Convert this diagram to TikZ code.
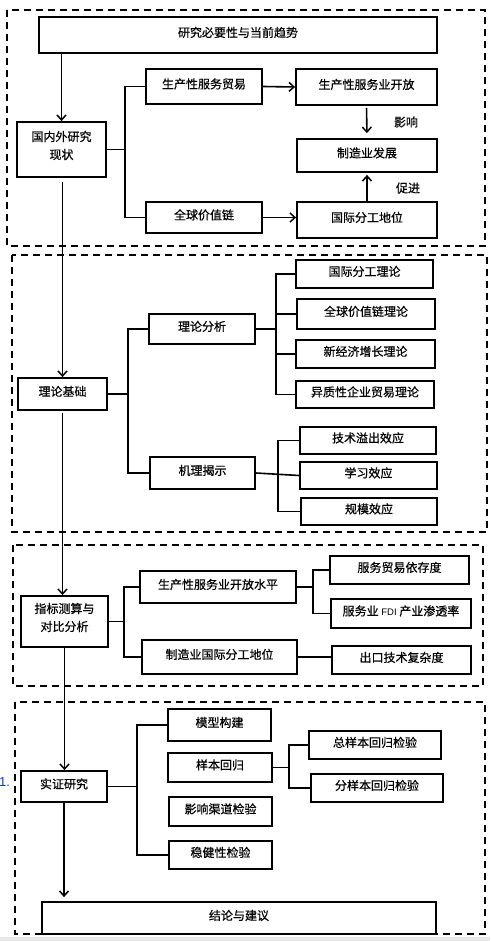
\documentclass[tikz,border=0pt]{standalone}
\usepackage{fontspec}
\newfontfamily\cjk[FakeBold=0.6]{Noto Sans CJK SC}
\newfontfamily\lat{Liberation Sans}
\usetikzlibrary{arrows.meta}
\newcommand\bx[7][box]{\node[#1, minimum width={(#5-#3)*1pt}, minimum height={(#6-#4)*1pt}] (#2) at ({(#3+#5)/2},{(#4+#6)/2}) {#7};}
\begin{document}
\begin{tikzpicture}[x=1pt,y=-1pt,
  frame/.style={draw, line width=1.8pt, inner sep=0pt, font=\cjk\fontsize{12}{18}\selectfont},
  box/.style={frame, text height=9pt, text depth=5pt},
  box2/.style={frame, align=center, text depth=9pt},
  conn/.style={line width=1.6pt},
  arr/.style={line width=1.6pt, -{Straight Barb[length=5pt,width=9pt,line width=1.5pt]}},
  dashbox/.style={line width=1.7pt, dash pattern=on 7pt off 5pt},
  lbl/.style={inner sep=0pt, font=\cjk\fontsize{12}{14}\selectfont}]
\useasboundingbox (0,0) rectangle (490,941);
\fill[black!9] (0,937) rectangle (490,941);
% dashed groups
\draw[dashbox] (7,10) rectangle (485,246);
\draw[dashbox] (12,255) rectangle (487,532);
\draw[dashbox] (13,545) rectangle (483,686);
\draw[dashbox] (15,702) rectangle (485,934);
% section 1
\bx{top}{39}{17}{437}{53}{研究必要性与当前趋势}
\bx[box2]{gn}{17}{122}{106}{177}{国内外研究\\现状}
\bx{sc}{146}{69}{262}{104}{生产性服务贸易}
\bx{kf}{296}{69}{437}{105}{生产性服务业开放}
\bx{zz}{297}{139}{437}{172}{制造业发展}
\bx{qq}{146}{202}{262}{233}{全球价值链}
\bx{gj}{297}{202}{437}{238}{国际分工地位}
\node[lbl] (yx) at (406,122) {影响};
\node[lbl] (cj) at (408,188) {促进};
\coordinate (bus1) at (125,0);
\draw[conn] (gn.east) -- (gn.east -| bus1);
\draw[conn] (sc.west) -- (sc.west -| bus1) -- (qq.west -| bus1) -- (qq.west);
\draw[arr] (sc.east) -- (kf.west);
\draw[arr] (qq.east) -- (qq.east -| gj.west);
\draw[arr, shorten <=2pt, shorten >=5pt] (kf.south) -- (zz.north);
\draw[arr, shorten >=2pt] (gj.north) -- (zz.south);
% section 2
\bx{ll}{18}{378}{107}{410}{理论基础}
\bx{fx}{149}{314}{255}{344}{理论分析}
\bx{t1}{296}{260}{433}{288}{国际分工理论}
\bx{t2}{297}{299}{435}{329}{全球价值链理论}
\bx{t3}{296}{340}{435}{368}{新经济增长理论}
\bx{t4}{296}{381}{434}{408}{异质性企业贸易理论}
\bx{jl2}{150}{457}{255}{489}{机理揭示}
\bx{e1}{300}{427}{436}{454}{技术溢出效应}
\bx{e2}{300}{462}{437}{489}{学习效应}
\bx{e3}{301}{498}{437}{525}{规模效应}
\coordinate (bus2) at (128,0);
\coordinate (bus2a) at (276,0);
\coordinate (bus2b) at (278,0);
\draw[conn] (ll.east) -- (ll.east -| bus2);
\draw[conn] (fx.west) -- (fx.west -| bus2) -- (jl2.west -| bus2) -- (jl2.west);
\draw[conn] (fx.east) -- (fx.east -| bus2a);
\draw[conn] (t1.west) -- (t1.west -| bus2a) -- (t4.west -| bus2a) -- (t4.west);
\draw[conn] (t2.west) -- (t2.west -| bus2a);
\draw[conn] (t3.west) -- (t3.west -| bus2a);
\draw[conn] (jl2.east) -- (e2.west);
\draw[conn] (e1.west) -- (e1.west -| bus2b) -- (e3.west -| bus2b) -- (e3.west);
% section 3
\bx[box2]{zb}{21}{596}{108}{647}{指标测算与\\对比分析}
\bx{kp}{140}{571}{296}{603}{生产性服务业开放水平}
\bx{fw}{330}{556}{469}{584}{服务贸易依存度}
\bx{fdi}{331}{599}{471}{628}{服务业 {\lat\fontsize{9.5}{10}\selectfont FDI} 产业渗透率}
\bx{zg}{142}{640}{297}{674}{制造业国际分工地位}
\bx{ck}{332}{646}{471}{674}{出口技术复杂度}
\coordinate (bus3) at (124,0);
\coordinate (bus3a) at (313,0);
\draw[conn] (zb.east) -- (zb.east -| bus3);
\draw[conn] (kp.west) -- (kp.west -| bus3) -- (zg.west -| bus3) -- (zg.west);
\draw[conn] (kp.east) -- (kp.east -| bus3a);
\draw[conn] (fw.west) -- (fw.west -| bus3a) -- (fdi.west -| bus3a) -- (fdi.west);
\draw[conn] (zg.east) -- (zg.east -| ck.west);
% section 4
\bx{sz}{21}{771}{107}{802}{实证研究}
\bx{mx}{168}{709}{271}{741}{模型构建}
\bx{yb}{168}{753}{272}{782}{样本回归}
\bx{qd}{169}{797}{272}{826}{影响渠道检验}
\bx{wj}{169}{841}{272}{869}{稳健性检验}
\bx{zy}{309}{731}{441}{759}{总样本回归检验}
\bx{fy}{311}{774}{443}{802}{分样本回归检验}
\bx{jy}{42}{902}{436}{934}{结论与建议}
\coordinate (bus4) at (137,0);
\coordinate (bus4a) at (289,0);
\draw[conn] (sz.east) -- (sz.east -| bus4);
\draw[conn] (mx.west) -- (mx.west -| bus4) -- (wj.west -| bus4) -- (wj.west);
\draw[conn] (yb.east) -- (yb.east -| bus4a);
\draw[conn] (zy.west) -- (zy.west -| bus4a) -- (fy.west -| bus4a) -- (fy.west);
\node[inner sep=0pt, font=\lat\fontsize{13}{14}\selectfont, text=blue!70!cyan!80!black] (n1) at (4.5,782) {1.};
% main spine
\draw[arr] (top.south -| gn.north) -- (gn.north);
\draw[arr, shorten <=4pt] (gn.south -| ll.north) -- (ll.north);
\draw[arr, shorten <=2pt] (ll.south) -- (ll.south |- zb.north);
\draw[arr] (zb.south) -- (zb.south |- sz.north);
\draw[arr, shorten >=4pt] (sz.south) -- (sz.south |- jy.north);
\end{tikzpicture}
\end{document}
